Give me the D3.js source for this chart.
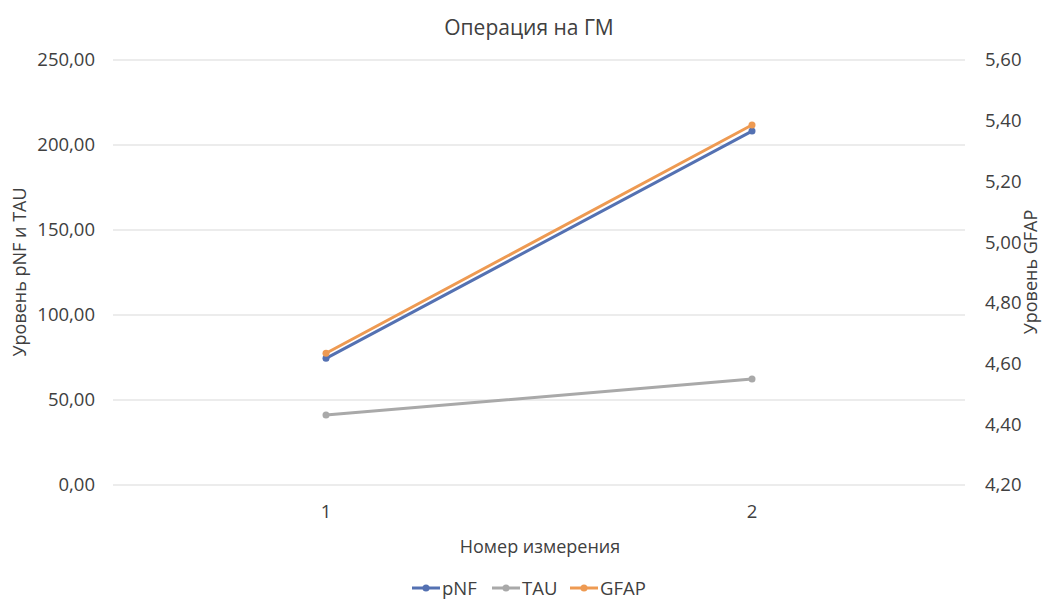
<!DOCTYPE html>
<html>
<head>
<meta charset="utf-8">
<script src="https://cdn.jsdelivr.net/npm/d3@7"></script>
<style>
  body { margin: 0; background: #fff; }
  text { font-family: "Open Sans", "Noto Sans", sans-serif; fill: #404040; }
</style>
</head>
<body>
<svg id="chart" width="1051" height="599"></svg>
<script>
const categories = ['1', '2'];
const pNF = [74.5, 208.2];
const tau = [41.2, 62.3];
const gfap = [4.634, 5.386];
const leftTicks = [0, 50, 100, 150, 200, 250];
const rightTicks = [4.2, 4.4, 4.6, 4.8, 5.0, 5.2, 5.4, 5.6];

const svg = d3.select('#chart');
const plot = { left: 113, right: 965, top: 60, bottom: 485 };
const fmt = v => d3.format('.2f')(v).replace('.', ',');

const x = d3.scaleBand().domain(categories).range([plot.left, plot.right]).padding(0);
const yL = d3.scaleLinear().domain([0, 250]).range([plot.bottom, plot.top]);
const yR = d3.scaleLinear().domain([4.2, 5.6]).range([plot.bottom, plot.top]);

// gridlines
svg.append('g')
  .selectAll('line')
  .data(leftTicks)
  .join('line')
  .attr('x1', plot.left)
  .attr('x2', plot.right)
  .attr('y1', d => yL(d))
  .attr('y2', d => yL(d))
  .attr('stroke', '#d9d9d9')
  .attr('stroke-width', 1);

// left axis
const leftAxis = svg.append('g')
  .attr('transform', `translate(${plot.left},0)`)
  .call(d3.axisLeft(yL).tickValues(leftTicks).tickFormat(fmt).tickSize(0).tickPadding(18));
leftAxis.select('.domain').remove();
leftAxis.selectAll('text').style('font-size', '18.5px').style('fill', '#404040');

// right axis
const rightAxis = svg.append('g')
  .attr('transform', `translate(${plot.right},0)`)
  .call(d3.axisRight(yR).tickValues(rightTicks).tickFormat(fmt).tickSize(0).tickPadding(20));
rightAxis.select('.domain').remove();
rightAxis.selectAll('text').style('font-size', '18.5px').style('fill', '#404040');

// x axis
const xAxis = svg.append('g')
  .attr('transform', `translate(0,${plot.bottom})`)
  .call(d3.axisBottom(x).tickSize(0).tickPadding(20));
xAxis.select('.domain').remove();
xAxis.selectAll('text').style('font-size', '18.5px').style('fill', '#404040');

// titles
svg.append('text')
  .attr('x', 529).attr('y', 35)
  .attr('text-anchor', 'middle')
  .style('font-size', '21px')
  .text('Операция на ГМ');

svg.append('text')
  .attr('transform', 'translate(26,272) rotate(-90)')
  .attr('text-anchor', 'middle')
  .style('font-size', '18px')
  .text('Уровень pNF и TAU');

svg.append('text')
  .attr('transform', 'translate(1037,272) rotate(-90)')
  .attr('text-anchor', 'middle')
  .style('font-size', '18px')
  .text('Уровень GFAP');

svg.append('text')
  .attr('x', 540).attr('y', 553)
  .attr('text-anchor', 'middle')
  .style('font-size', '18px')
  .text('Номер измерения');

// series
const series = [
  { name: 'pNF', values: pNF, scale: yL, color: '#5471b2' },
  { name: 'TAU', values: tau, scale: yL, color: '#a9a9a9' },
  { name: 'GFAP', values: gfap, scale: yR, color: '#ee9a52' }
];
const cx = c => x(c) + x.bandwidth() / 2;

series.forEach(s => {
  const line = d3.line()
    .x((d, i) => cx(categories[i]))
    .y(d => s.scale(d));
  svg.append('path')
    .datum(s.values)
    .attr('d', line)
    .attr('fill', 'none')
    .attr('stroke', s.color)
    .attr('stroke-width', 3)
    .attr('stroke-linecap', 'round');
  svg.append('g')
    .selectAll('circle')
    .data(s.values)
    .join('circle')
    .attr('cx', (d, i) => cx(categories[i]))
    .attr('cy', d => s.scale(d))
    .attr('r', 3.5)
    .attr('fill', s.color);
});

// legend
const legendX = [412, 492, 570];
const legend = svg.append('g');
series.forEach((s, i) => {
  const g = legend.append('g').attr('transform', `translate(${legendX[i]},588)`);
  g.append('line')
    .attr('x1', 0).attr('x2', 28)
    .attr('y1', 0).attr('y2', 0)
    .attr('stroke', s.color).attr('stroke-width', 3);
  g.append('circle').attr('cx', 14).attr('cy', 0).attr('r', 3.5).attr('fill', s.color);
  g.append('text')
    .attr('x', 30).attr('y', 7)
    .style('font-size', '18.5px')
    .text(s.name);
});
</script>
</body>
</html>
